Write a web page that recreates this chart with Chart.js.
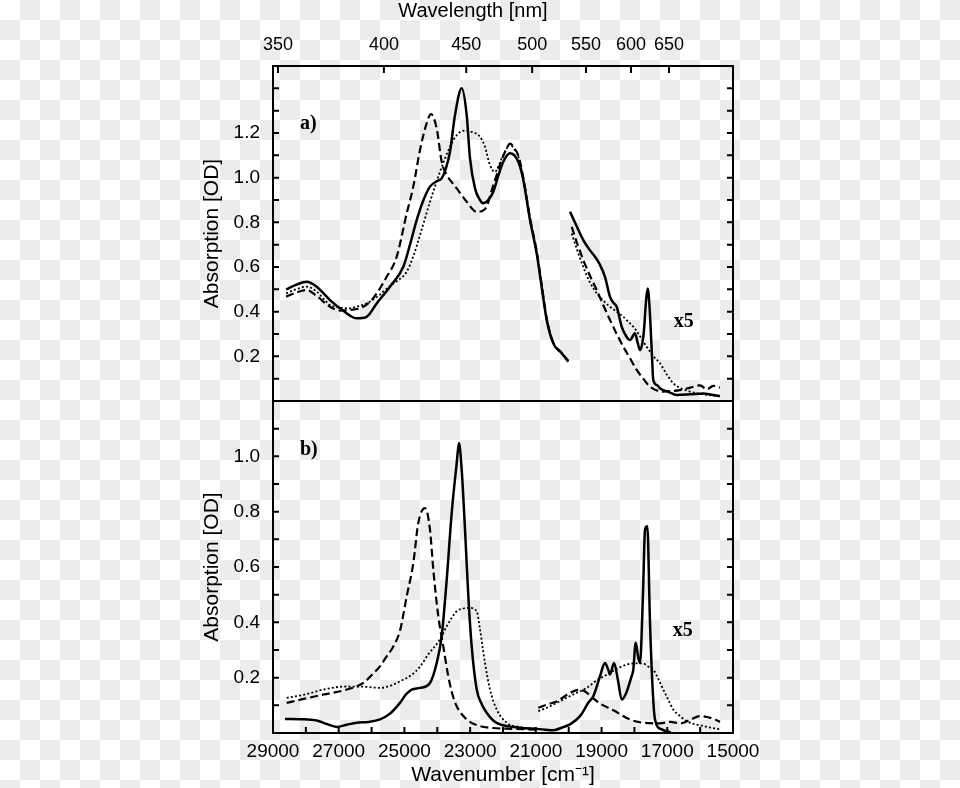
<!DOCTYPE html>
<html>
<head>
<meta charset="utf-8">
<script src="https://cdn.jsdelivr.net/npm/chart.js@4.4.1/dist/chart.umd.min.js"></script>
<style>
  html, body {
    margin: 0;
    padding: 0;
    background: repeating-conic-gradient(#ececec 0 25%, #ffffff 0 50%) 0 0 / 40px 40px;
  }
  #wrap { width: 960px; height: 788px; position: relative; }
</style>
</head>
<body>
<div id="wrap"><canvas id="spectra"></canvas></div>
<script>
// top axis labels (nm) and y tick labels shown
const wavelengthTicks = [350, 400, 450, 500, 550, 600, 650];
const aTickLabels = ['0.2', '0.4', '0.6', '0.8', '1.0', '1.2'];
const bTickLabels = ['0.2', '0.4', '0.6', '0.8', '1.0'];

// panel a) UV-vis part
const aSolidWn = [28600, 28300, 27975, 27670, 27265, 26860, 26450, 26150, 25844, 25440, 25034, 24830, 24627, 24420, 24222, 24000, 23866, 23740, 23613, 23461, 23257, 23105, 23004, 22852, 22700, 22599, 22450, 22295, 22140, 21991, 21787, 21535, 21382, 21178, 20974, 20822, 20670, 20469, 20214, 20013];
const aSolidOd = [0.500, 0.520, 0.534, 0.512, 0.452, 0.404, 0.370, 0.377, 0.437, 0.512, 0.601, 0.700, 0.810, 0.900, 0.960, 0.985, 0.997, 1.040, 1.116, 1.280, 1.400, 1.280, 1.086, 0.952, 0.900, 0.885, 0.900, 0.937, 1.010, 1.071, 1.109, 1.071, 0.990, 0.810, 0.660, 0.510, 0.363, 0.258, 0.214, 0.176];

const aDashWn = [28600, 28300, 27975, 27670, 27265, 26950, 26757, 26450, 26252, 25997, 25844, 25540, 25236, 24931, 24730, 24526, 24324, 24190, 24018, 23866, 23713, 23560, 23409, 23105, 22800, 22650, 22496, 22350, 22192, 22040, 21887, 21787, 21650, 21535, 21382, 21178, 20974, 20822, 20670, 20469, 20214, 20013];
const aDashOd = [0.467, 0.485, 0.497, 0.470, 0.422, 0.405, 0.407, 0.412, 0.422, 0.452, 0.482, 0.556, 0.646, 0.840, 0.960, 1.124, 1.243, 1.285, 1.220, 1.071, 1.012, 0.980, 0.952, 0.892, 0.847, 0.850, 0.870, 0.940, 1.012, 1.080, 1.131, 1.153, 1.130, 1.100, 1.000, 0.820, 0.670, 0.520, 0.370, 0.262, 0.216, 0.180];

const aDotWn = [28600, 28300, 27975, 27670, 27265, 26950, 26657, 26400, 26148, 25800, 25440, 25200, 24930, 24726, 24526, 24222, 23918, 23613, 23409, 23200, 22950, 22700, 22548, 22396, 22243, 22140, 22040, 21887, 21787, 21650, 21535, 21382, 21178, 20974, 20822, 20670, 20469, 20214, 20013];
const aDotOd = [0.482, 0.500, 0.512, 0.490, 0.430, 0.418, 0.415, 0.425, 0.437, 0.470, 0.515, 0.540, 0.579, 0.650, 0.743, 0.892, 1.026, 1.138, 1.190, 1.210, 1.205, 1.183, 1.138, 1.056, 1.026, 1.050, 1.086, 1.130, 1.150, 1.125, 1.095, 0.995, 0.815, 0.665, 0.515, 0.366, 0.260, 0.215, 0.178];

// panel a) x5 part
const aSolidX5Wn = [19960, 19750, 19556, 19380, 19200, 19050, 18896, 18744, 18640, 18540, 18388, 18250, 18135, 17983, 17900, 17830, 17720, 17640, 17596, 17540, 17474, 17426, 17300, 17222, 16950, 16714, 16300, 15904, 15650, 15396];
const aSolidX5Od = [0.847, 0.780, 0.720, 0.680, 0.646, 0.610, 0.556, 0.467, 0.440, 0.422, 0.333, 0.290, 0.273, 0.303, 0.260, 0.228, 0.300, 0.460, 0.504, 0.420, 0.228, 0.094, 0.070, 0.057, 0.040, 0.027, 0.030, 0.034, 0.028, 0.022];

const aDashX5Wn = [19909, 19730, 19556, 19350, 19148, 18950, 18744, 18540, 18338, 18130, 17931, 17730, 17526, 17121, 16850, 16613, 16300, 16000, 15800, 15600, 15400];
const aDashX5Od = [0.780, 0.700, 0.631, 0.560, 0.497, 0.430, 0.363, 0.300, 0.243, 0.190, 0.139, 0.100, 0.064, 0.042, 0.045, 0.049, 0.060, 0.070, 0.052, 0.068, 0.060];

const aDotX5Wn = [19909, 19730, 19556, 19350, 19148, 18950, 18744, 18540, 18338, 18190, 18034, 17830, 17627, 17420, 17222, 17020, 16817, 16560, 16309, 15900, 15396];
const aDotX5Od = [0.750, 0.670, 0.600, 0.530, 0.482, 0.450, 0.422, 0.400, 0.377, 0.355, 0.333, 0.290, 0.243, 0.200, 0.169, 0.120, 0.079, 0.055, 0.042, 0.030, 0.020];

// panel b) UV-vis part
const bSolidWn = [28635, 28100, 27670, 27350, 27061, 26750, 26453, 26100, 25744, 25440, 25135, 24950, 24779, 24526, 24222, 24018, 23866, 23713, 23562, 23409, 23340, 23257, 23156, 23055, 22953, 22800, 22650, 22496, 22300, 22091, 21483, 21000];
const bSolidOd = [0.051, 0.050, 0.045, 0.032, 0.022, 0.030, 0.037, 0.040, 0.049, 0.070, 0.109, 0.140, 0.157, 0.163, 0.181, 0.253, 0.350, 0.554, 0.795, 0.975, 1.048, 0.951, 0.735, 0.494, 0.313, 0.157, 0.105, 0.073, 0.045, 0.031, 0.019, 0.015];

const bDashWn = [28583, 28000, 27467, 26757, 26252, 25950, 25744, 25540, 25338, 25135, 24931, 24730, 24578, 24374, 24222, 24121, 23969, 23817, 23665, 23540, 23409, 23105, 22700, 22300, 21700, 21000];
const bDashOd = [0.109, 0.125, 0.139, 0.157, 0.181, 0.215, 0.241, 0.277, 0.313, 0.370, 0.494, 0.614, 0.759, 0.813, 0.735, 0.590, 0.422, 0.313, 0.205, 0.140, 0.097, 0.049, 0.025, 0.018, 0.015, 0.012];

const bDotWn = [28583, 28000, 27467, 26800, 26200, 25744, 25400, 25135, 24780, 24526, 24270, 23918, 23713, 23409, 23200, 23004, 22800, 22700, 22548, 22396, 22192, 21887, 21500, 21000];
const bDotOd = [0.127, 0.140, 0.157, 0.168, 0.167, 0.163, 0.172, 0.187, 0.210, 0.240, 0.285, 0.338, 0.386, 0.440, 0.450, 0.452, 0.440, 0.374, 0.253, 0.157, 0.085, 0.037, 0.022, 0.015];

// panel b) x5 part
const bSolidX5Wn = [21000, 20700, 20469, 20200, 19961, 19656, 19400, 19252, 19048, 18896, 18800, 18744, 18622, 18500, 18388, 18250, 18100, 18034, 17962, 17880, 17830, 17740, 17678, 17608, 17526, 17445, 17374, 17170, 16900];
const bSolidX5Od = [0.015, 0.012, 0.010, 0.020, 0.031, 0.061, 0.110, 0.133, 0.205, 0.253, 0.230, 0.211, 0.253, 0.190, 0.121, 0.145, 0.200, 0.229, 0.326, 0.270, 0.253, 0.500, 0.735, 0.747, 0.398, 0.157, 0.049, 0.013, 0.003];

const bDashX5Wn = [20926, 20600, 20347, 19961, 19700, 19500, 19300, 19078, 18643, 18135, 17730, 17222, 16917, 16600, 16300, 16004, 15800, 15548, 15396];
const bDashX5Od = [0.091, 0.105, 0.115, 0.145, 0.156, 0.150, 0.130, 0.109, 0.082, 0.049, 0.037, 0.035, 0.040, 0.035, 0.048, 0.061, 0.058, 0.049, 0.040];

const bDotX5Wn = [20926, 20600, 20265, 19850, 19454, 19150, 18845, 18540, 18236, 17980, 17730, 17580, 17426, 17270, 17121, 16970, 16817, 16600, 16411, 15904, 15396];
const bDotX5Od = [0.079, 0.095, 0.115, 0.140, 0.163, 0.190, 0.211, 0.232, 0.247, 0.252, 0.251, 0.240, 0.229, 0.195, 0.157, 0.120, 0.085, 0.060, 0.043, 0.025, 0.013];

const sansFont = "'Liberation Sans', Arial, sans-serif";
const serifFont = "'Liberation Serif', 'Times New Roman', serif";

function pts(xs, ys) {
    return xs.map((x, i) => ({x: x, y: ys[i]}));
}

const lineStyles = {
    solid: {borderWidth: 2.5, borderDash: []},
    dash: {borderWidth: 2.2, borderDash: [8, 4]},
    dot: {borderWidth: 1.8, borderDash: [2, 2.2]}
};

function series(label, xs, ys, style, axis) {
    return Object.assign({
        label: label,
        data: pts(xs, ys),
        yAxisID: axis,
        xAxisID: 'x',
        borderColor: '#000',
        pointRadius: 0,
        fill: false,
        cubicInterpolationMode: 'monotone'
    }, lineStyles[style]);
}

// frame, inward tick marks, panel labels
const frameTicks = {
    id: 'frameTicks',
    afterDraw(chart) {
        const {ctx, chartArea: a, scales} = chart;
        const yA = scales.yA, yB = scales.yB, x = scales.x, xTop = scales.xTop;
        ctx.save();
        ctx.strokeStyle = '#000';
        ctx.lineWidth = 2;
        ctx.strokeRect(a.left, a.top, a.right - a.left, a.bottom - a.top);
        ctx.beginPath();
        ctx.moveTo(a.left, yA.bottom);
        ctx.lineTo(a.right, yA.bottom);
        x.ticks.forEach(t => {
            const p = x.getPixelForValue(t.value);
            ctx.moveTo(p, a.bottom);
            ctx.lineTo(p, a.bottom - 6);
        });
        xTop.ticks.forEach(t => {
            const p = xTop.getPixelForValue(t.value);
            ctx.moveTo(p, a.top);
            ctx.lineTo(p, a.top + 7);
        });
        [yA, yB].forEach(s => {
            s.ticks.forEach(t => {
                const p = s.getPixelForValue(t.value);
                ctx.moveTo(a.left, p);
                ctx.lineTo(a.left + 6, p);
                ctx.moveTo(a.right, p);
                ctx.lineTo(a.right - 6, p);
            });
        });
        ctx.stroke();

        ctx.fillStyle = '#000';
        ctx.font = '20px ' + sansFont;
        ctx.textAlign = 'center';
        ctx.textBaseline = 'middle';
        ctx.fillText('Wavelength [nm]', 473, 11);

        ctx.font = 'bold 20px ' + serifFont;
        ctx.textAlign = 'left';
        ctx.fillText('a)', x.getPixelForValue(28180), yA.getPixelForValue(1.24));
        ctx.fillText('x5', x.getPixelForValue(16800), yA.getPixelForValue(0.355));
        ctx.fillText('b)', x.getPixelForValue(28180), yB.getPixelForValue(1.025));
        ctx.fillText('x5', x.getPixelForValue(16830), yB.getPixelForValue(0.37));
        ctx.restore();
    }
};

function yScale(max, labels, weight) {
    return {
        type: 'linear',
        position: 'left',
        stack: 'panels',
        stackWeight: weight,
        min: 0,
        max: max,
        grid: {display: false, drawTicks: false},
        border: {display: false},
        afterFit: function (scale) { scale.width = 273; },
        ticks: {
            stepSize: 0.1,
            autoSkip: false,
            padding: 13,
            color: '#000',
            font: {family: sansFont, size: 19},
            callback: function (v) {
                const s = v.toFixed(1);
                return labels.includes(s) ? s : '';
            }
        },
        title: {
            display: true,
            text: 'Absorption [OD]',
            color: '#000',
            font: {family: sansFont, size: 21},
            padding: {top: 200, bottom: 0}
        }
    };
}

new Chart(document.getElementById('spectra'), {
    type: 'line',
    data: {
        datasets: [
            series('a solid', aSolidWn, aSolidOd, 'solid', 'yA'),
            series('a dashed', aDashWn, aDashOd, 'dash', 'yA'),
            series('a dotted', aDotWn, aDotOd, 'dot', 'yA'),
            series('a solid x5', aSolidX5Wn, aSolidX5Od, 'solid', 'yA'),
            series('a dashed x5', aDashX5Wn, aDashX5Od, 'dash', 'yA'),
            series('a dotted x5', aDotX5Wn, aDotX5Od, 'dot', 'yA'),
            series('b solid', bSolidWn, bSolidOd, 'solid', 'yB'),
            series('b dashed', bDashWn, bDashOd, 'dash', 'yB'),
            series('b dotted', bDotWn, bDotOd, 'dot', 'yB'),
            series('b solid x5', bSolidX5Wn, bSolidX5Od, 'solid', 'yB'),
            series('b dashed x5', bDashX5Wn, bDashX5Od, 'dash', 'yB'),
            series('b dotted x5', bDotX5Wn, bDotX5Od, 'dot', 'yB')
        ]
    },
    options: {
        responsive: true,
        maintainAspectRatio: false,
        animation: false,
        devicePixelRatio: 1,
        layout: {padding: {left: 0, right: 227, top: 0, bottom: 0}},
        plugins: {
            legend: {display: false},
            tooltip: {enabled: false}
        },
        scales: {
            x: {
                type: 'linear',
                position: 'bottom',
                min: 15000,
                max: 29000,
                reverse: true,
                grid: {display: false, drawTicks: false},
                border: {display: false},
                afterFit: function (scale) { scale.height = 55; },
                ticks: {
                    stepSize: 1000,
                    autoSkip: false,
                    maxRotation: 0,
                    minRotation: 0,
                    padding: 7,
                    color: '#000',
                    font: {family: sansFont, size: 19},
                    callback: function (v) {
                        return v % 2000 === 1000 ? String(v) : '';
                    }
                },
                title: {
                    display: true,
                    text: 'Wavenumber [cm\u207B\u00B9]',
                    color: '#000',
                    font: {family: sansFont, size: 21},
                    padding: {top: 0, bottom: 0}
                }
            },
            xTop: {
                type: 'linear',
                position: 'top',
                min: 13226,
                max: 28740,
                reverse: true,
                grid: {display: false, drawTicks: false},
                border: {display: false},
                afterFit: function (scale) { scale.height = 66; },
                afterBuildTicks: function (scale) {
                    scale.ticks = wavelengthTicks.map(nm => ({value: 1e7 / nm}));
                },
                ticks: {
                    autoSkip: false,
                    maxRotation: 0,
                    minRotation: 0,
                    padding: 10,
                    color: '#000',
                    font: {family: sansFont, size: 18},
                    callback: function (v, i) {
                        return String(wavelengthTicks[i]);
                    }
                }
            },
            yB: yScale(1.2, bTickLabels, 332),
            yA: yScale(1.5, aTickLabels, 335)
        }
    },
    plugins: [frameTicks]
});
</script>
</body>
</html>
